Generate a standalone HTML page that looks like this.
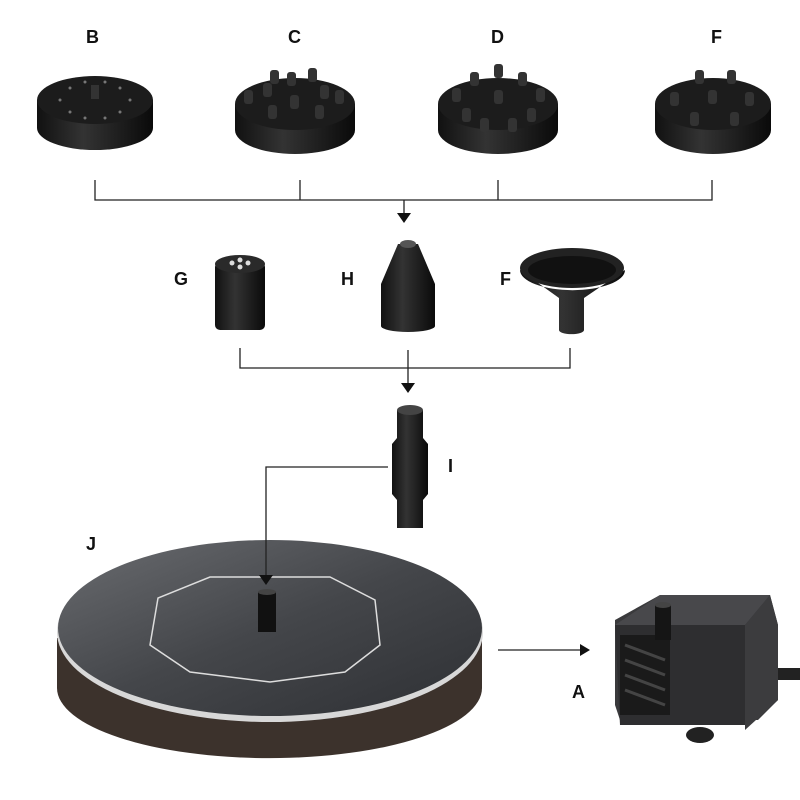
<!DOCTYPE html>
<html><head><style>body{margin:0;background:#fff}svg{display:block}text{font-family:"Liberation Sans",sans-serif;font-weight:bold;font-size:18px;fill:#111}</style></head><body>
<svg width="800" height="800" viewBox="0 0 800 800">
<defs>
<linearGradient id="nz" x1="0" x2="1"><stop offset="0" stop-color="#111"/><stop offset=".4" stop-color="#333"/><stop offset="1" stop-color="#0a0a0a"/></linearGradient>
<linearGradient id="pn" x1="0" y1="0" x2="1" y2="1"><stop offset="0" stop-color="#6a6c70"/><stop offset=".5" stop-color="#44464a"/><stop offset="1" stop-color="#2e3034"/></linearGradient>
</defs>
<text x="86" y="43">B</text><text x="288" y="43">C</text><text x="491" y="43">D</text><text x="711" y="43">F</text>
<g>
<path d="M37 100 v28 a58 22 0 0 0 116 0 v-28z" fill="url(#nz)"/><ellipse cx="95" cy="100" rx="58" ry="24" fill="#1c1c1c"/>
<rect x="91" y="85" width="8" height="14" fill="#333"/>
<g fill="#777"><circle cx="60" cy="100" r="1.5"/><circle cx="130" cy="100" r="1.5"/><circle cx="70" cy="88" r="1.5"/><circle cx="120" cy="88" r="1.5"/><circle cx="70" cy="112" r="1.5"/><circle cx="120" cy="112" r="1.5"/><circle cx="85" cy="82" r="1.5"/><circle cx="105" cy="82" r="1.5"/><circle cx="85" cy="118" r="1.5"/><circle cx="105" cy="118" r="1.5"/></g>
<path d="M235 104 v26 a60 24 0 0 0 120 0 v-26z" fill="url(#nz)"/><ellipse cx="295" cy="104" rx="60" ry="26" fill="#1c1c1c"/>
<path d="M438 104 v26 a60 24 0 0 0 120 0 v-26z" fill="url(#nz)"/><ellipse cx="498" cy="104" rx="60" ry="26" fill="#1c1c1c"/>
<path d="M655 104 v26 a58 24 0 0 0 116 0 v-26z" fill="url(#nz)"/><ellipse cx="713" cy="104" rx="58" ry="26" fill="#1c1c1c"/>
<g fill="#333">
<rect x="244" y="90" width="9" height="14" rx="3"/><rect x="263" y="83" width="9" height="14" rx="3"/><rect x="287" y="72" width="9" height="14" rx="3"/><rect x="308" y="68" width="9" height="14" rx="3"/><rect x="320" y="85" width="9" height="14" rx="3"/><rect x="335" y="90" width="9" height="14" rx="3"/><rect x="290" y="95" width="9" height="14" rx="3"/><rect x="268" y="105" width="9" height="14" rx="3"/><rect x="315" y="105" width="9" height="14" rx="3"/><rect x="270" y="70" width="9" height="14" rx="3"/>
<rect x="494" y="64" width="9" height="14" rx="3"/><rect x="470" y="72" width="9" height="14" rx="3"/><rect x="518" y="72" width="9" height="14" rx="3"/><rect x="452" y="88" width="9" height="14" rx="3"/><rect x="536" y="88" width="9" height="14" rx="3"/><rect x="494" y="90" width="9" height="14" rx="3"/><rect x="462" y="108" width="9" height="14" rx="3"/><rect x="527" y="108" width="9" height="14" rx="3"/><rect x="480" y="118" width="9" height="14" rx="3"/><rect x="508" y="118" width="9" height="14" rx="3"/>
<rect x="695" y="70" width="9" height="14" rx="3"/><rect x="727" y="70" width="9" height="14" rx="3"/><rect x="670" y="92" width="9" height="14" rx="3"/><rect x="708" y="90" width="9" height="14" rx="3"/><rect x="745" y="92" width="9" height="14" rx="3"/><rect x="690" y="112" width="9" height="14" rx="3"/><rect x="730" y="112" width="9" height="14" rx="3"/>
</g>
</g>
<text x="174" y="285">G</text><text x="341" y="285">H</text><text x="500" y="285">F</text><text x="448" y="472">I</text><text x="86" y="550">J</text><text x="572" y="698">A</text>
<rect x="215" y="262" width="50" height="68" rx="5" fill="url(#nz)"/><ellipse cx="240" cy="264" rx="25" ry="9" fill="#2a2a2a"/>
<g fill="#ddd"><circle cx="232" cy="263" r="2.5"/><circle cx="248" cy="263" r="2.5"/><circle cx="240" cy="260" r="2.5"/><circle cx="240" cy="267" r="2.5"/></g>
<path d="M398 244h20l17 40v42a27 6 0 0 1-54 0v-42z" fill="url(#nz)"/><ellipse cx="408" cy="244" rx="8" ry="4" fill="#555"/>
<path d="M520 270 a52 20 0 0 0 105 0 L584 298 V330 a12 4 0 0 1-25 0V298z" fill="url(#nz)"/><ellipse cx="572" cy="268" rx="52" ry="20" fill="#222"/><ellipse cx="572" cy="270" rx="44" ry="14" fill="#111"/>
<path d="M397 410h26v28l5 6v50l-5 6v28h-26v-28l-5-6v-50l5-6z" fill="url(#nz)"/><ellipse cx="410" cy="410" rx="13" ry="5" fill="#444"/>
<!-- panel -->
<path d="M57 638 v50 a212 70 0 0 0 425 0 v-50z" fill="#3c322c"/>
<ellipse cx="270" cy="632" rx="213" ry="90" fill="#d8d8d8"/>
<ellipse cx="270" cy="628" rx="212" ry="88" fill="url(#pn)"/>
<polygon points="210,577 330,577 375,600 380,645 345,672 270,682 190,672 150,645 158,598" fill="none" stroke="#ddd" stroke-width="1.5"/>
<rect x="258" y="592" width="18" height="40" fill="#111"/><ellipse cx="267" cy="592" rx="9" ry="3" fill="#444"/>
<!-- pump -->
<path d="M615 620l45-25h110l8 30v75l-20 20h-138l-5-15z" fill="#3a3a3c"/>
<path d="M660 595h110l-25 30h-130z" fill="#48484b"/>
<path d="M615 625h130v100h-125z" fill="#2e2e30"/>
<rect x="620" y="635" width="50" height="80" fill="#1a1a1a"/>
<g stroke="#444" stroke-width="3"><path d="M625 645l40 15M625 660l40 15M625 675l40 15M625 690l40 15"/></g>
<path d="M745 625l25-30 8 30v75l-33 30z" fill="#3c3c3e"/>
<rect x="655" y="605" width="16" height="35" fill="#151515"/><ellipse cx="663" cy="605" rx="8" ry="3" fill="#444"/>
<path d="M778 668h22v12h-22z" fill="#222"/>
<ellipse cx="700" cy="735" rx="14" ry="8" fill="#222"/>
<g stroke="#222" stroke-width="1.3" fill="none">
<path d="M95 180V200H712V180M300 180V200M498 180V200M404 200V214"/>
<path d="M240 348V368H570V348M408 350V384"/>
<path d="M388 467H266V576"/>
<path d="M498 650H580"/>
</g>
<g fill="#111"><path d="M397 213h14l-7 10z"/><path d="M401 383h14l-7 10z"/><path d="M259 575h14l-7 10z"/><path d="M580 644v12l10-6z"/></g>
</svg>
</body></html>
